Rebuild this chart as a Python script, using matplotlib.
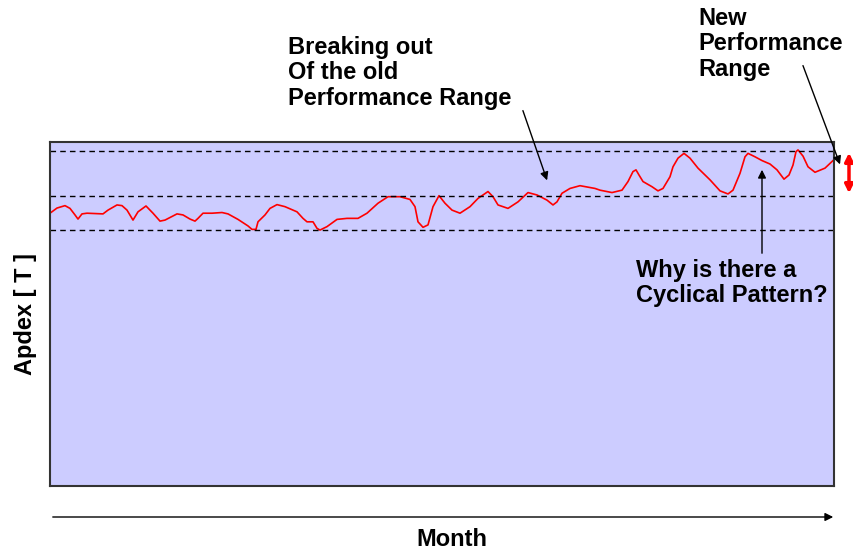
"""
Apdex over time with the old and new performance ranges marked.
"""

import matplotlib.pyplot as plt

# day index across the month span, and apdex score
days = [0, 7, 15, 20, 25, 28, 32, 37, 53, 58, 67, 72, 77, 83, 88, 96, 103,
        110, 115, 127, 133, 140, 145, 148, 153, 162, 172, 178, 188, 198,
        202, 206, 208, 215, 220, 227, 235, 247, 253, 257, 263, 267, 270,
        277, 287, 297, 308, 317, 328, 338, 350, 360, 365, 368, 373, 378,
        383, 389, 395, 402, 410, 420, 428, 438, 443, 448, 458, 468, 478,
        487, 497, 503, 507, 512, 520, 530, 545, 550, 562, 572, 578, 583,
        586, 589, 593, 602, 608, 613, 620, 623, 628, 634, 640, 648, 660,
        670, 678, 683, 690, 695, 698, 705, 712, 720, 727, 734, 739, 743,
        746, 748, 753, 758, 765, 775, 783]
apdex = [0.793, 0.808, 0.815, 0.807, 0.788, 0.776, 0.791, 0.793, 0.791,
         0.802, 0.817, 0.815, 0.802, 0.773, 0.797, 0.814, 0.793, 0.770,
         0.773, 0.791, 0.788, 0.776, 0.770, 0.778, 0.793, 0.793, 0.795,
         0.791, 0.775, 0.756, 0.746, 0.746, 0.768, 0.788, 0.807, 0.818,
         0.812, 0.797, 0.778, 0.768, 0.768, 0.749, 0.744, 0.754, 0.775,
         0.778, 0.778, 0.793, 0.822, 0.841, 0.841, 0.833, 0.812, 0.768,
         0.752, 0.759, 0.812, 0.844, 0.822, 0.802, 0.793, 0.812, 0.836,
         0.856, 0.841, 0.817, 0.807, 0.826, 0.853, 0.846, 0.831, 0.817,
         0.826, 0.851, 0.865, 0.873, 0.865, 0.860, 0.853, 0.860, 0.885,
         0.914, 0.919, 0.904, 0.885, 0.870, 0.858, 0.865, 0.899, 0.928,
         0.953, 0.967, 0.953, 0.924, 0.890, 0.858, 0.849, 0.860, 0.909,
         0.957, 0.967, 0.957, 0.946, 0.936, 0.919, 0.892, 0.904, 0.933,
         0.972, 0.977, 0.959, 0.928, 0.912, 0.924, 0.946]

old_range = [0.744, 0.843]
new_range_top = 0.974

plt.rcParams['font.family'] = ['Liberation Sans', 'DejaVu Sans']
plt.rcParams['font.weight'] = 'bold'

W, H = 854, 550
fig = plt.figure(figsize=(W / 100, H / 100), dpi=100)
ax = fig.add_axes([50 / W, 1 - 486 / H, 784 / W, 344 / H])
ax.set_facecolor('#ccccff')
for s in ax.spines.values():
    s.set_color('#333333')
    s.set_linewidth(1.5)

ax.plot(days, apdex, color='red', lw=1.2)
for y in old_range + [new_range_top]:
    ax.axhline(y, color='black', lw=1, ls=(0, (4, 3)))

ax.set_xlim(0, 784)
ax.set_ylim(0, 1)
ax.set_xticks([])
ax.set_yticks([])


def fp(x, y):
    # figure pixel position measured from the top-left corner
    return x / W, 1 - y / H


fs = 17
ls = 1.13
ax.set_ylabel('Apdex [ T ]', fontsize=fs, fontweight='bold', labelpad=9)
fig.text(*fp(452, 540), 'Month', fontsize=fs, ha='center', va='center')

arrow = dict(arrowstyle='-|>', color='black', lw=1, mutation_scale=12)
ax.annotate('', xy=fp(836, 517), xytext=fp(50, 517),
            xycoords='figure fraction', textcoords='figure fraction',
            arrowprops=arrow)

fig.text(*fp(288, 36), 'Breaking out\nOf the old\nPerformance Range',
         fontsize=fs, ha='left', va='top', linespacing=ls)
ax.annotate('', xy=fp(548, 183), xytext=fp(522, 108),
            xycoords='figure fraction', textcoords='figure fraction',
            arrowprops=arrow)

fig.text(*fp(698, 7), 'New\nPerformance\nRange',
         fontsize=fs, ha='left', va='top', linespacing=ls)
ax.annotate('', xy=fp(841, 167), xytext=fp(802, 63),
            xycoords='figure fraction', textcoords='figure fraction',
            arrowprops=arrow)

fig.text(*fp(636, 259), 'Why is there a\nCyclical Pattern?',
         fontsize=fs, ha='left', va='top', linespacing=ls)
ax.annotate('', xy=fp(762, 167), xytext=fp(762, 256),
            xycoords='figure fraction', textcoords='figure fraction',
            arrowprops=arrow)

ax.annotate('', xy=fp(849, 150), xytext=fp(849, 196),
            xycoords='figure fraction', textcoords='figure fraction',
            arrowprops=dict(arrowstyle='<|-|>', color='red', lw=2.5,
                            mutation_scale=12))

fig.savefig('out.png', dpi=100)
